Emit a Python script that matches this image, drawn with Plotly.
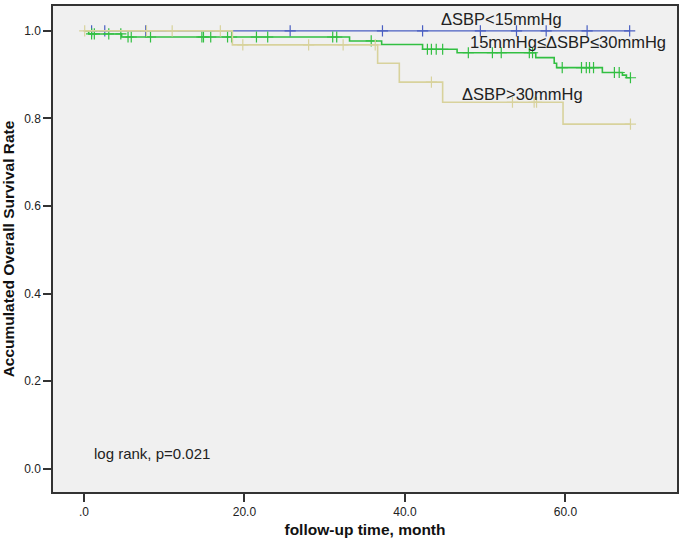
import numpy as np
import plotly.graph_objects as go

# ---- data ----
blue_name = "ΔSBP<15mmHg"
blue_step_t = [0.0, 68.0]
blue_step_s = [1.0, 1.0]
blue_cens = [0.96, 2.6, 7.7, 25.7, 37.2, 42.2, 49.4, 53.9, 57.6, 62.7, 68.0]

green_name = "15mmHg≤ΔSBP≤30mmHg"
green_step_t = [0.0, 0.6, 4.7, 33.1, 37.1, 42.2, 46.5, 56.3, 58.6, 58.9, 64.6, 67.1, 67.6, 68.1]
green_step_s = [1.0, 0.993, 0.986, 0.977, 0.969, 0.958, 0.950, 0.939, 0.926, 0.916, 0.905, 0.899, 0.893, 0.893]
green_cens = [0.96, 1.3, 3.1, 4.6, 5.5, 5.9, 8.3, 14.7, 14.9, 15.8, 17.9, 18.4, 21.5, 22.9,
              31.0, 31.5, 35.8, 42.8, 43.3, 43.9, 44.7, 47.9, 50.9, 52.0, 55.5, 55.9,
              59.6, 62.0, 62.6, 63.0, 63.5, 66.1, 66.7, 68.1]

tan_name = "ΔSBP>30mmHg"
tan_step_t = [0.0, 18.5, 36.6, 39.3, 44.7, 59.7, 68.1]
tan_step_s = [1.0, 0.968, 0.926, 0.883, 0.837, 0.787, 0.787]
tan_cens = [0.1, 7.8, 11.0, 17.0, 19.8, 28.0, 32.3, 36.3, 43.3, 53.4, 56.1, 56.4, 68.1]

x_tick_vals = [0, 20, 40, 60]
x_tick_text = [".0", "20.0", "40.0", "60.0"]
y_tick_vals = [0.0, 0.2, 0.4, 0.6, 0.8, 1.0]
y_tick_text = ["0.0", "0.2", "0.4", "0.6", "0.8", "1.0"]

x_title = "follow-up time, month"
y_title = "Accumulated Overall Survival Rate"
stat_text = "log rank, p=0.021"

# ---- figure ----
def surv_at(step_t, step_s, times):
    idx = np.searchsorted(np.array(step_t), np.array(times), side="right") - 1
    idx = np.clip(idx, 0, len(step_s) - 1)
    return np.array(step_s)[idx]

series = [
    (blue_name, blue_step_t, blue_step_s, blue_cens, "#4a5fc2", 1.4),
    (green_name, green_step_t, green_step_s, green_cens, "#32bf42", 1.6),
    (tan_name, tan_step_t, tan_step_s, tan_cens, "#d8d29c", 1.6),
]

fig = go.Figure()
for name, st, ss, cens, col, lw in series:
    fig.add_trace(go.Scatter(x=st, y=ss, mode="lines", line=dict(color=col, width=lw, shape="hv"),
                             name=name, showlegend=False, hoverinfo="skip"))
    fig.add_trace(go.Scatter(x=cens, y=surv_at(st, ss, cens), mode="markers",
                             marker=dict(symbol="cross-thin", size=8, line=dict(color=col, width=1.2)),
                             showlegend=False, hoverinfo="skip"))

ann_font = dict(family="Liberation Sans, Arial, sans-serif", size=16.5, color="#222222")
annots = [
    (blue_name, 44.2, 1.027),
    (green_name, 47.9, 0.975),
    (tan_name, 46.8, 0.857),
]
for txt, ax, ay in annots:
    fig.add_annotation(x=ax, y=ay, text=txt, showarrow=False, xanchor="left", yanchor="middle",
                       font=ann_font, xref="x", yref="y")
fig.add_annotation(x=1.0, y=0.036, text=stat_text, showarrow=False, xanchor="left", yanchor="middle",
                   font=dict(family="Liberation Sans, Arial, sans-serif", size=15, color="#222222"))

tick_font = dict(family="Liberation Sans, Arial, sans-serif", size=12, color="#222222")
title_font = dict(family="Liberation Sans, Arial, sans-serif", size=15.5, color="#111111")

fig.update_layout(
    width=685, height=545,
    margin=dict(l=53, r=8, t=4, b=53),
    paper_bgcolor="white", plot_bgcolor="#f0f0f0",
    xaxis=dict(range=[-3.85, 73.9], tickvals=x_tick_vals, ticktext=x_tick_text,
               showgrid=False, zeroline=False, showline=True, linecolor="#333333", linewidth=1.5,
               mirror=True, ticks="outside", ticklen=8, tickwidth=1.5, tickcolor="#333333",
               tickfont=tick_font,
               title=dict(text="<b>" + x_title + "</b>", font=title_font, standoff=6)),
    yaxis=dict(range=[-0.053, 1.0568], tickvals=y_tick_vals, ticktext=y_tick_text,
               showgrid=False, zeroline=False, showline=True, linecolor="#333333", linewidth=1.5,
               mirror=True, ticks="outside", ticklen=8, tickwidth=1.5, tickcolor="#333333",
               tickfont=tick_font,
               title=dict(text="<b>" + y_title + "</b>", font=title_font, standoff=8)),
)

fig.write_html("out.html", config={"displayModeBar": False},
               post_script="document.body.style.margin='0';")
